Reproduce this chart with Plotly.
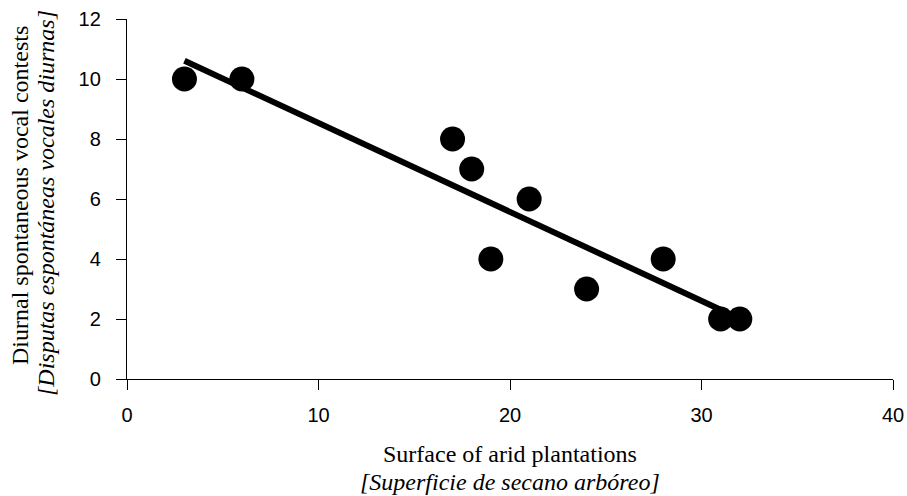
import numpy as np
import plotly.graph_objects as go

# Data
surface = [3, 6, 17, 18, 19, 21, 24, 28, 31, 32]
contests = [10, 10, 8, 7, 4, 6, 3, 4, 2, 2]
fit_range = [3, 31]
x_ticks = [0, 10, 20, 30, 40]
y_ticks = [0, 2, 4, 6, 8, 10, 12]

slope, intercept = np.polyfit(surface, contests, 1)
fit_x = np.array(fit_range, dtype=float)
fit_y = slope * fit_x + intercept

fig = go.Figure()
fig.add_trace(go.Scatter(x=fit_x, y=fit_y, mode="lines",
                         line=dict(color="black", width=6), hoverinfo="skip"))
fig.add_trace(go.Scatter(x=surface, y=contests, mode="markers",
                         marker=dict(color="black", size=25, line=dict(width=0))))

axis_common = dict(showgrid=False, zeroline=False, showline=True, linecolor="black",
                   linewidth=1.3, ticks="outside", ticklen=10, tickwidth=1.3,
                   tickcolor="black", automargin=False,
                   tickfont=dict(family="Liberation Sans, Arial", size=20, color="black"))

fig.update_layout(
    width=907, height=496,
    margin=dict(l=127, r=14, t=19, b=117),
    plot_bgcolor="white", paper_bgcolor="white",
    showlegend=False,
    xaxis=dict(range=[0, 40], tickvals=x_ticks, ticklabelstandoff=8, **axis_common),
    yaxis=dict(range=[0, 12], tickvals=y_ticks, ticklabelstandoff=11, **axis_common),
)

serif = dict(family="Liberation Serif, Times New Roman", size=24, color="black")
plot_h = 496 - 19 - 117
plot_w = 907 - 127 - 14

fig.add_annotation(text="Surface of arid plantations", x=0.5, y=(379 - 454) / plot_h,
                   xref="paper", yref="paper", yanchor="middle", showarrow=False, font=serif)
fig.add_annotation(text="<i>[Superficie de secano arbóreo]</i>", x=0.5,
                   y=(379 - 482) / plot_h, xref="paper", yref="paper", yanchor="middle",
                   showarrow=False, font=serif)
fig.add_annotation(text="Diurnal spontaneous vocal contests", x=(20 - 127) / plot_w,
                   y=(379 - 196) / plot_h, xref="paper", yref="paper", xanchor="center",
                   showarrow=False, font=serif, textangle=-90)
fig.add_annotation(text="<i>[Disputas espontáneas vocales diurnas]</i>",
                   x=(46 - 127) / plot_w, y=(379 - 203) / plot_h, xref="paper",
                   yref="paper", xanchor="center", showarrow=False, font=serif,
                   textangle=-90)

fig.write_html("out.html", config={"displayModeBar": False},
               post_script="document.body.style.margin='0px';document.body.style.overflow='hidden';")
